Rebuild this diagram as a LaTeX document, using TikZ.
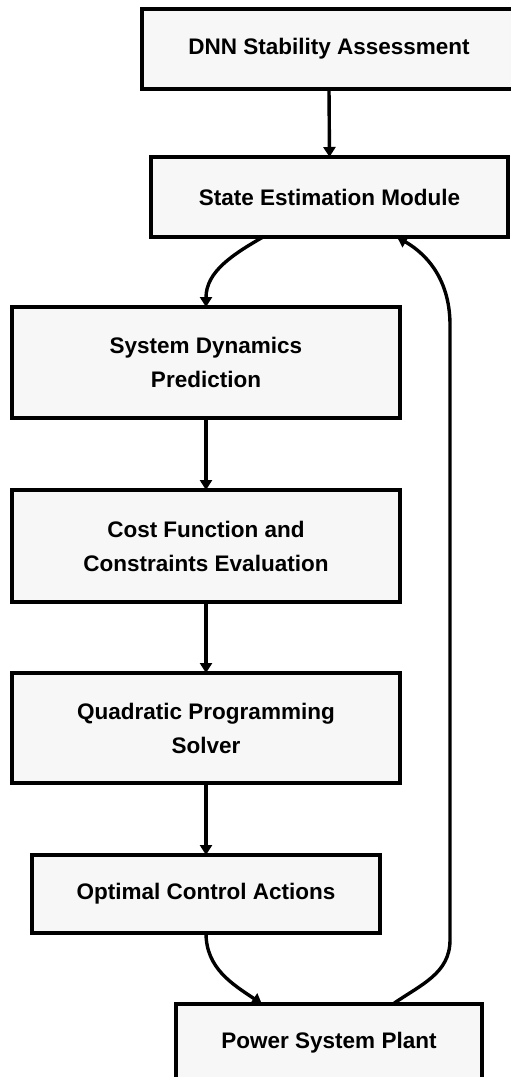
\documentclass[tikz,border=0pt]{standalone}
\usepackage{fontspec}
\setmainfont{Liberation Sans}
\usetikzlibrary{arrows.meta}
\definecolor{boxfill}{HTML}{F7F7F7}
\begin{document}
\begin{tikzpicture}[x=1pt,y=-1pt,
  blk/.style={draw=black,fill=boxfill,line width=3.8pt,rectangle,inner sep=0pt,outer sep=0pt,
    align=center,font=\bfseries\fontsize{22.5}{34}\selectfont},
  arr/.style={line width=3.4pt,-{Triangle[length=10pt,width=12pt]}},
  ln/.style={line width=3.4pt}]
\useasboundingbox (0,0) rectangle (511,1077);
\clip (0,0) rectangle (511,1077);
\node[blk,minimum width=374pt,minimum height=80pt] (dnn) at (329,49) {DNN Stability Assessment};
\node[blk,minimum width=357pt,minimum height=80pt] (state) at (329.5,197) {State Estimation Module};
\node[blk,minimum width=388pt,minimum height=111pt] (sys) at (206,362.5) {System Dynamics\\Prediction};
\node[blk,minimum width=388pt,minimum height=112pt] (cost) at (206,546) {Cost Function and\\Constraints Evaluation};
\node[blk,minimum width=388pt,minimum height=110pt] (quad) at (206,728) {Quadratic Programming\\Solver};
\node[blk,minimum width=348pt,minimum height=78pt] (opt) at (206,894) {Optimal Control Actions};
\node[blk,minimum width=306pt,minimum height=78pt] (plant) at (329,1043) {Power System Plant};
\coordinate (sOut) at (263,237);
\coordinate (sIn) at (397,237);
\coordinate (pIn) at (262,1004);
\coordinate (pOut) at (393,1004);
\coordinate (rLow) at (450,940);
\coordinate (rHigh) at (450,325);
\draw[arr] (dnn.south) -- (state.north);
\draw[arr] (sOut) to[out=210,in=90] (sys.north);
\draw[arr] (sys.south) -- (cost.north);
\draw[arr] (cost.south) -- (quad.north);
\draw[arr] (quad.south) -- (opt.north);
\draw[arr] (opt.south) to[out=-90,in=146] (pIn);
\draw[arr] (pOut) to[out=35,in=-90] (rLow) -- (rHigh) to[out=90,in=-30] (sIn);
\end{tikzpicture}
\end{document}
